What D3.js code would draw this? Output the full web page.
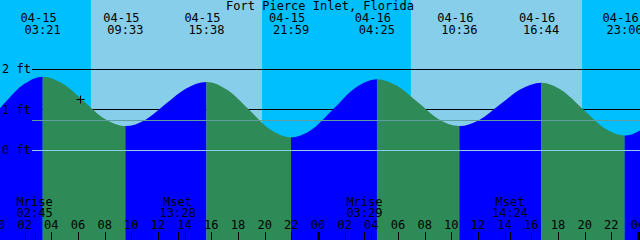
<!DOCTYPE html>
<html>
<head>
<meta charset="utf-8">
<script src="https://cdn.jsdelivr.net/npm/d3@7"></script>
<style>
  body { margin: 0; background: #fff; }
  svg { display: block; }
  text { font-family: "DejaVu Sans Mono", monospace; font-size: 12px; fill: #000; }
</style>
</head>
<body>
<div id="chart"></div>
<script>
var title = "Fort Pierce Inlet, Florida";

// high / low tides
var tideDates = ["04-15", "04-15", "04-15", "04-15", "04-16", "04-16", "04-16", "04-16"];
var tideTimes = ["03:21", "09:33", "15:38", "21:59", "04:25", "10:36", "16:44", "23:00"];
var tideFeet  = [1.81, 0.59, 1.68, 0.31, 1.75, 0.59, 1.66, 0.36];

// water level (hours since 04-15 00:00, feet)
var curveHours = [-2.85, -1.30, 0.25, 1.80,
                  3.35, 4.90, 6.45, 8.00,
                  9.55, 11.07, 12.59, 14.11,
                  15.63, 17.22, 18.81, 20.40,
                  21.98, 23.59, 25.20, 26.81,
                  28.42, 29.96, 31.51, 33.05,
                  34.60, 36.13, 37.67, 39.20,
                  40.73, 42.30, 43.87, 45.43,
                  47.00, 48.55, 50.10];
var curveFeet  = [0.33, 0.55, 1.07, 1.59,
                  1.81, 1.63, 1.20, 0.77,
                  0.59, 0.75, 1.14, 1.52,
                  1.68, 1.48, 1.00, 0.51,
                  0.31, 0.52, 1.03, 1.54,
                  1.75, 1.58, 1.17, 0.76,
                  0.59, 0.75, 1.13, 1.50,
                  1.66, 1.47, 1.01, 0.55,
                  0.36, 0.57, 1.08];

var sunDates    = ["04-15", "04-16"];
var sunriseTimes = ["06:58", "06:58"];
var sunsetTimes  = ["19:48", "19:48"];

var moonLabels = ["Mrise", "Mset", "Mrise", "Mset"];
var moonDates  = ["04-15", "04-15", "04-16", "04-16"];
var moonTimes  = ["02:45", "13:28", "03:29", "14:24"];

var feetTicks = [0, 1, 2];
var meanFeet = 0.74;
var hourTicks = [0, 2, 4, 6, 8, 10, 12, 14, 16, 18, 20, 22,
                 24, 26, 28, 30, 32, 34, 36, 38, 40, 42, 44, 46, 48];
var nowHour = 6.15, nowFeet = 1.25;

var width = 640, height = 240;

function toHours(date, time) {
  var day = parseInt(date.split("-")[1]) - 15;
  var p = time.split(":");
  return day * 24 + (+p[0]) + (+p[1]) / 60;
}
function pad(n) { return (n < 10 ? "0" : "") + n; }

var x = d3.scaleLinear().domain([0.15, 48.15]).range([0, width]);
var y = d3.scaleLinear().domain([0, 2]).range([150, 69]);

var svg = d3.select("#chart").append("svg")
    .attr("width", width)
    .attr("height", height);

// night / day background
svg.append("rect").attr("width", width).attr("height", height).attr("fill", "#00bfff");
svg.selectAll(".day")
    .data(sunDates)
  .enter().append("rect")
    .attr("class", "day")
    .attr("x", function(d, i) { return x(toHours(d, sunriseTimes[i])); })
    .attr("width", function(d, i) { return x(toHours(d, sunsetTimes[i])) - x(toHours(d, sunriseTimes[i])); })
    .attr("y", 0)
    .attr("height", height)
    .attr("fill", "#87ceeb");

// foot lines (behind the water)
svg.selectAll(".ftline")
    .data(feetTicks.filter(function(f) { return f > 0; }))
  .enter().append("line")
    .attr("x1", 32).attr("x2", width)
    .attr("y1", function(f) { return Math.floor(y(f)) + 0.5; })
    .attr("y2", function(f) { return Math.floor(y(f)) + 0.5; })
    .attr("stroke", "#000");

// water, blue while rising, green while falling
var pts = curveHours.map(function(h, i) { return [h, curveFeet[i]]; });
var area = d3.area()
    .x(function(d) { return x(d[0]); })
    .y0(height)
    .y1(function(d) { return y(d[1]); })
    .curve(d3.curveMonotoneX);

var tideHours = tideDates.map(function(d, i) { return toHours(d, tideTimes[i]); });
var bounds = [-10].concat(tideHours).concat([60]);
var defs = svg.append("defs");
for (var i = 0; i < bounds.length - 1; i++) {
  var rising = i < tideFeet.length ? tideFeet[i] > (i > 0 ? tideFeet[i - 1] : 0) : tideFeet[i - 1] < tideFeet[i - 2];
  defs.append("clipPath").attr("id", "seg" + i)
    .append("rect")
      .attr("x", x(bounds[i]))
      .attr("width", x(bounds[i + 1]) - x(bounds[i]))
      .attr("y", 0).attr("height", height);
  svg.append("path")
      .datum(pts)
      .attr("d", area)
      .attr("clip-path", "url(#seg" + i + ")")
      .attr("fill", rising ? "#0000ff" : "#2e8b57");
}

// mean level and datum lines
svg.append("line")
    .attr("x1", 32).attr("x2", width)
    .attr("y1", Math.round(y(meanFeet)) + 0.5).attr("y2", Math.round(y(meanFeet)) + 0.5)
    .attr("stroke", "#5f9ea0");
svg.append("line")
    .attr("x1", 32).attr("x2", width)
    .attr("y1", Math.round(y(0)) + 0.5).attr("y2", Math.round(y(0)) + 0.5)
    .attr("stroke", "#87ceeb");

// current time mark
var nx = Math.round(x(nowHour)) + 0.5, ny = Math.round(y(nowFeet)) + 0.5;
svg.append("path")
    .attr("d", "M" + (nx - 4) + "," + ny + "H" + (nx + 4) + "M" + nx + "," + (ny - 4) + "V" + (ny + 4))
    .attr("stroke", "#000");

// foot labels
svg.selectAll(".ftlab")
    .data(feetTicks)
  .enter().append("text")
    .attr("x", 2)
    .attr("y", function(f) { return y(f) + 4; })
    .text(function(f) { return f + " ft"; });

// title
svg.append("text")
    .attr("x", width / 2).attr("y", 10)
    .attr("text-anchor", "middle")
    .text(title);

// tide labels
var tl = svg.selectAll(".tide")
    .data(tideHours)
  .enter().append("g");
tl.append("text")
    .attr("x", function(h) { return x(h) - 4; })
    .attr("y", 22)
    .attr("text-anchor", "middle")
    .text(function(h, i) { return tideDates[i]; });
tl.append("text")
    .attr("x", function(h) { return x(h); })
    .attr("y", 34)
    .attr("text-anchor", "middle")
    .text(function(h, i) { return tideTimes[i]; });

// moon events
var moonHours = moonDates.map(function(d, i) { return toHours(d, moonTimes[i]); });
var ml = svg.selectAll(".moon")
    .data(moonHours)
  .enter().append("g");
ml.append("text")
    .attr("x", function(h) { return x(h); })
    .attr("y", 206)
    .attr("text-anchor", "middle")
    .text(function(h, i) { return moonLabels[i]; });
ml.append("text")
    .attr("x", function(h) { return x(h); })
    .attr("y", 217)
    .attr("text-anchor", "middle")
    .text(function(h, i) { return moonTimes[i]; });
ml.append("line")
    .attr("x1", function(h) { return Math.round(x(h)) + 0.5; })
    .attr("x2", function(h) { return Math.round(x(h)) + 0.5; })
    .attr("y1", 232).attr("y2", height)
    .attr("stroke", "#000");

// hour axis
var ht = svg.selectAll(".hour")
    .data(hourTicks)
  .enter().append("g");
ht.append("text")
    .attr("x", function(h) { return x(h); })
    .attr("y", 229)
    .attr("text-anchor", "middle")
    .text(function(h) { return pad(h % 24); });
ht.append("rect")
    .attr("x", function(h) { return Math.round(x(h)) - (h % 24 === 0 ? 1 : 0); })
    .attr("width", function(h) { return h % 24 === 0 ? 3 : 1; })
    .attr("y", 232)
    .attr("height", 8)
    .attr("fill", "#000");
</script>
</body>
</html>
